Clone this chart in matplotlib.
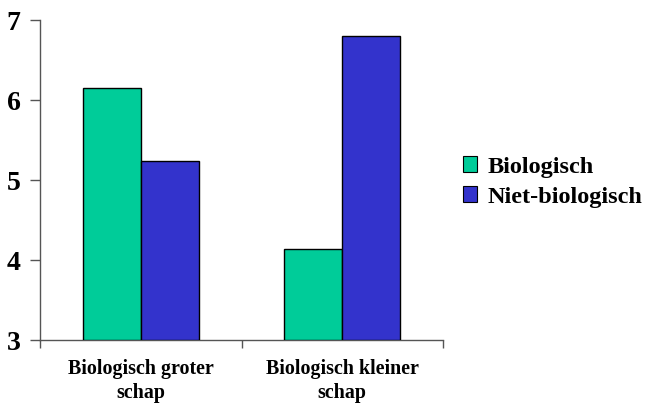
import numpy as np
import matplotlib
matplotlib.use("agg")
import matplotlib.pyplot as plt
from matplotlib.patches import Patch

# data
categories = ["Biologisch groter\nschap", "Biologisch kleiner\nschap"]
series_names = ["Biologisch", "Niet-biologisch"]
biologisch = [6.15, 4.14]
niet_biologisch = [5.24, 6.80]
yticks = [3, 4, 5, 6, 7]

colors = ["#00CC99", "#3333CC"]

plt.rcParams["font.family"] = ["Liberation Serif", "DejaVu Serif"]
plt.rcParams["font.weight"] = "bold"

fig = plt.figure(figsize=(6.46, 4.05), dpi=100)
ax = fig.add_axes([40/646, 1-340/405, 403/646, 320/405])

x = np.arange(len(categories))
w = 0.288
ax.bar(x - w/2, np.array(biologisch) - 3, w, bottom=3, color=colors[0],
       edgecolor="black", linewidth=1.0, zorder=3)
ax.bar(x + w/2, np.array(niet_biologisch) - 3, w, bottom=3, color=colors[1],
       edgecolor="black", linewidth=1.0, zorder=3)

ax.set_xlim(-0.5, 1.5)
ax.set_ylim(3, 7)
ax.set_yticks(yticks)
ax.set_yticklabels([str(t) for t in yticks], fontsize=20, fontweight="bold")

# ticks on category boundaries, labels centred
ax.set_xticks([-0.5, 0.5, 1.5])
ax.set_xticklabels([])
ax.set_xticks(x, minor=True)
ax.set_xticklabels(categories, minor=True, fontsize=14.4, fontweight="bold",
                   linespacing=1.25)
ax.tick_params(axis="x", which="minor", length=0, pad=14)
ax.tick_params(axis="x", which="major", length=6, width=1, color="#555555")
ax.tick_params(axis="y", length=7, width=1, color="#555555", pad=7)

for s in ["top", "right"]:
    ax.spines[s].set_visible(False)
for s in ["left", "bottom"]:
    ax.spines[s].set_color("#555555")
    ax.spines[s].set_linewidth(1)

handles = [Patch(facecolor=c, edgecolor="black", linewidth=0.8) for c in colors]
fig.legend(handles, series_names, loc="center left",
           bbox_to_anchor=(441/646, 1-182/405), frameon=False,
           prop={"size": 17.5, "weight": "bold"}, handlelength=0.6,
           handleheight=0.6, handletextpad=0.4, labelspacing=0.35)

fig.savefig("out.png", dpi=100)
